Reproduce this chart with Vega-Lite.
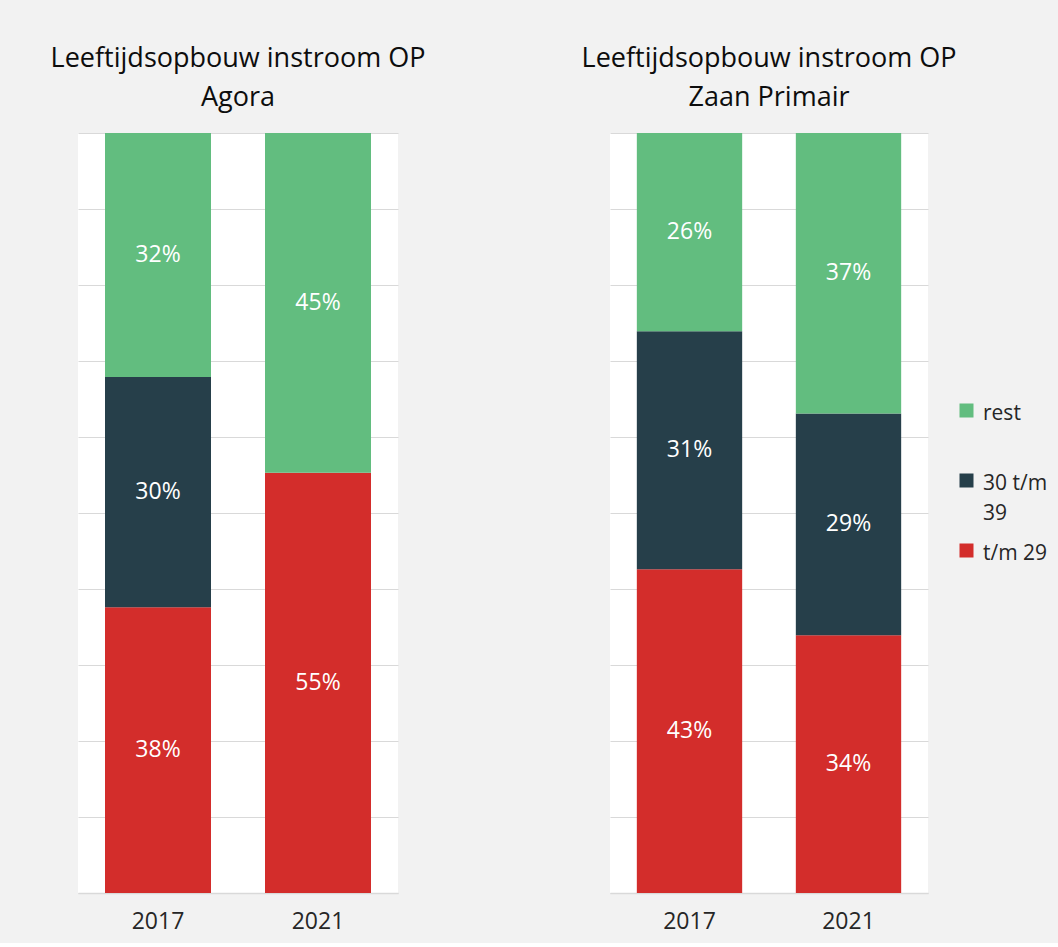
{
  "$schema": "https://vega.github.io/schema/vega-lite/v6.json",
  "background": "#f2f2f2",
  "padding": {"left": 50, "top": 45, "right": 10, "bottom": 10},
  "bounds": "flush",
  "spacing": 212,
  "datasets": {
    "agora": [
      {"jaar": "2017", "groep": "t/m 29", "aandeel": 0.376, "laag": 1},
      {"jaar": "2017", "groep": "30 t/m 39", "aandeel": 0.303, "laag": 2},
      {"jaar": "2017", "groep": "rest", "aandeel": 0.321, "laag": 3},
      {"jaar": "2021", "groep": "t/m 29", "aandeel": 0.553, "laag": 1},
      {"jaar": "2021", "groep": "rest", "aandeel": 0.447, "laag": 3}
    ],
    "zaan": [
      {"jaar": "2017", "groep": "t/m 29", "aandeel": 0.426, "laag": 1},
      {"jaar": "2017", "groep": "30 t/m 39", "aandeel": 0.313, "laag": 2},
      {"jaar": "2017", "groep": "rest", "aandeel": 0.261, "laag": 3},
      {"jaar": "2021", "groep": "t/m 29", "aandeel": 0.339, "laag": 1},
      {"jaar": "2021", "groep": "30 t/m 39", "aandeel": 0.292, "laag": 2},
      {"jaar": "2021", "groep": "rest", "aandeel": 0.369, "laag": 3}
    ]
  },
  "hconcat": [
    {
      "width": 320,
      "height": 760,
      "data": {"name": "agora"},
      "title": {"text": ["Leeftijdsopbouw instroom OP", "Agora"]},
      "layer": [
        {"mark": {"type": "bar"},
         "encoding": {
           "x": {"field": "jaar", "type": "nominal", "title": null,
                 "scale": {"paddingInner": 0.3375, "paddingOuter": 0.16875}},
           "y": {"field": "aandeel", "type": "quantitative", "stack": "zero",
                 "scale": {"domain": [0, 1]}, "title": null},
           "order": {"field": "laag", "type": "quantitative"},
           "color": {"field": "groep", "type": "nominal",
                     "scale": {"domain": ["rest", "30 t/m 39", "t/m 29"], "range": ["#62bd7f", "#263f4a", "#d32d2b"]},
                     "legend": {"orient": "none", "legendX": 878, "legendY": 267, "title": null,
                                "gridAlign": "all", "rowPadding": 16,
                                "labelExpr": "indexof(datum.value, '30') == 0 ? ['30 t/m', '39'] : datum.value",
                                "encode": {"labels": {"update": {"dy": {"value": -8}, "lineHeight": {"value": 30}}}}}}
         }},
        {"transform": [
           {"stack": "aandeel", "groupby": ["jaar"], "sort": [{"field": "laag", "order": "ascending"}], "as": ["y0", "y1"]},
           {"fold": ["y0", "y1"], "as": ["rand", "waarde"]},
           {"aggregate": [{"op": "mean", "field": "waarde", "as": "midden"}], "groupby": ["jaar", "groep", "aandeel"]}
         ],
         "mark": {"type": "text", "color": "white", "fontSize": 23},
         "encoding": {
           "x": {"field": "jaar", "type": "nominal"},
           "y": {"field": "midden", "type": "quantitative"},
           "text": {"field": "aandeel", "type": "quantitative", "format": ".0%"}
         }}
      ]
    },
    {
      "width": 318,
      "height": 760,
      "data": {"name": "zaan"},
      "title": {"text": ["Leeftijdsopbouw instroom OP", "Zaan Primair"]},
      "layer": [
        {"mark": {"type": "bar"},
         "encoding": {
           "x": {"field": "jaar", "type": "nominal", "title": null,
                 "scale": {"paddingInner": 0.3375, "paddingOuter": 0.16875}},
           "y": {"field": "aandeel", "type": "quantitative", "stack": "zero",
                 "scale": {"domain": [0, 1]}, "title": null},
           "order": {"field": "laag", "type": "quantitative"},
           "color": {"field": "groep", "type": "nominal",
                     "scale": {"domain": ["rest", "30 t/m 39", "t/m 29"], "range": ["#62bd7f", "#263f4a", "#d32d2b"]}}
         }},
        {"transform": [
           {"stack": "aandeel", "groupby": ["jaar"], "sort": [{"field": "laag", "order": "ascending"}], "as": ["y0", "y1"]},
           {"fold": ["y0", "y1"], "as": ["rand", "waarde"]},
           {"aggregate": [{"op": "mean", "field": "waarde", "as": "midden"}], "groupby": ["jaar", "groep", "aandeel"]}
         ],
         "mark": {"type": "text", "color": "white", "fontSize": 23},
         "encoding": {
           "x": {"field": "jaar", "type": "nominal"},
           "y": {"field": "midden", "type": "quantitative"},
           "text": {"field": "aandeel", "type": "quantitative", "format": ".0%"}
         }}
      ]
    }
  ],
  "resolve": {"scale": {"color": "shared"}},
  "config": {
    "font": "Open Sans",
    "view": {"fill": "white", "stroke": null},
    "title": {"fontSize": 27, "fontWeight": "normal", "color": "#0d0d0d", "lineHeight": 39, "offset": 21},
    "axisY": {"labels": false, "ticks": false, "domain": false, "grid": true, "gridColor": "#d9d9d9", "tickCount": 10},
    "axisX": {"labelAngle": 0, "labelFontSize": 23, "labelColor": "#262626", "ticks": false, "domainColor": "#d9d9d9", "domainWidth": 1.5, "labelPadding": 17, "grid": false},
    "legend": {"symbolType": "square", "symbolSize": 196, "symbolStrokeWidth": 0, "labelFontSize": 21, "labelColor": "#262626", "labelOffset": 6, "labelBaseline": "top"}
  }
}
